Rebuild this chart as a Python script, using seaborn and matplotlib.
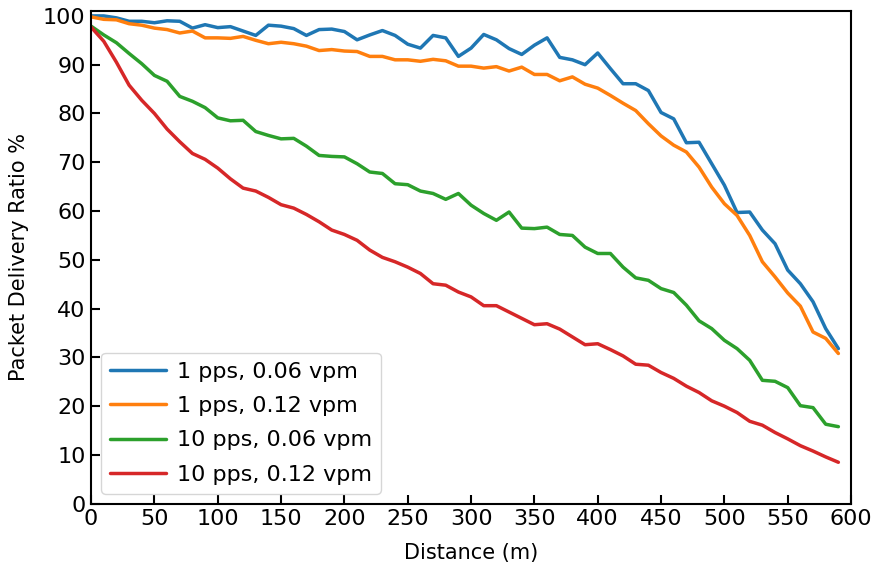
import numpy as np
import pandas as pd
import matplotlib
matplotlib.use("Agg")
import matplotlib.pyplot as plt
import seaborn as sns

distance = list(range(0, 600, 10))

pdr_1pps_006 = [100.0, 100.0, 99.6, 98.9, 98.9, 98.6, 99.0, 98.9, 97.5, 98.2,
                97.6, 97.8, 96.9, 96.0, 98.1, 97.9, 97.4, 96.0, 97.2, 97.3,
                96.8, 95.1, 96.1, 97.0, 96.0, 94.2, 93.4, 96.0, 95.5, 91.7,
                93.4, 96.2, 95.1, 93.3, 92.1, 94.0, 95.5, 91.5, 91.0, 90.0,
                92.4, 89.2, 86.1, 86.1, 84.7, 80.2, 78.9, 74.0, 74.1, 69.7,
                65.3, 59.7, 59.8, 56.1, 53.3, 47.9, 45.1, 41.4, 35.9, 31.8]

pdr_1pps_012 = [99.8, 99.3, 99.2, 98.4, 98.1, 97.5, 97.2, 96.5, 96.9, 95.5,
                95.5, 95.4, 95.8, 95.0, 94.3, 94.6, 94.3, 93.8, 92.9, 93.1,
                92.8, 92.7, 91.7, 91.7, 91.0, 91.0, 90.7, 91.1, 90.8, 89.7,
                89.7, 89.3, 89.6, 88.7, 89.5, 88.0, 88.0, 86.7, 87.5, 86.0,
                85.2, 83.7, 82.1, 80.6, 77.9, 75.4, 73.5, 72.1, 69.0, 64.9,
                61.5, 59.1, 55.0, 49.6, 46.5, 43.2, 40.5, 35.2, 33.9, 30.8]

pdr_10pps_006 = [97.9, 96.1, 94.5, 92.3, 90.2, 87.8, 86.6, 83.5, 82.5, 81.2,
                 79.1, 78.5, 78.6, 76.3, 75.5, 74.8, 74.9, 73.3, 71.4, 71.2,
                 71.1, 69.7, 68.0, 67.7, 65.6, 65.4, 64.1, 63.6, 62.4, 63.6,
                 61.2, 59.5, 58.1, 59.8, 56.5, 56.4, 56.7, 55.2, 55.0, 52.6,
                 51.3, 51.3, 48.5, 46.3, 45.8, 44.1, 43.3, 40.7, 37.5, 35.9,
                 33.5, 31.8, 29.4, 25.3, 25.1, 23.8, 20.1, 19.7, 16.3, 15.8]

pdr_10pps_012 = [97.7, 94.8, 90.5, 85.8, 82.7, 80.0, 76.8, 74.2, 71.8, 70.6,
                 68.8, 66.6, 64.7, 64.1, 62.8, 61.3, 60.6, 59.3, 57.8, 56.1,
                 55.2, 54.0, 52.0, 50.5, 49.6, 48.5, 47.2, 45.1, 44.8, 43.4,
                 42.4, 40.6, 40.6, 39.3, 38.0, 36.7, 36.9, 35.8, 34.2, 32.6,
                 32.8, 31.6, 30.3, 28.6, 28.4, 26.9, 25.7, 24.1, 22.8, 21.1,
                 20.0, 18.7, 16.9, 16.1, 14.6, 13.3, 11.9, 10.8, 9.6, 8.5]

series_labels = ["1 pps, 0.06 vpm", "1 pps, 0.12 vpm",
                 "10 pps, 0.06 vpm", "10 pps, 0.12 vpm"]
series_values = [pdr_1pps_006, pdr_1pps_012, pdr_10pps_006, pdr_10pps_012]

frames = []
for lab, vals in zip(series_labels, series_values):
    frames.append(pd.DataFrame({"Distance": distance, "PDR": vals, "Series": lab}))
df = pd.concat(frames, ignore_index=True)

sns.set_style("white")
plt.rcParams["font.family"] = ["DejaVu Sans"]
plt.rcParams["text.color"] = "black"
plt.rcParams["axes.labelcolor"] = "black"

fig = plt.figure(figsize=(8.76, 5.66), dpi=100)
ax = fig.add_axes([0.104, 0.110, 0.8675, 0.8705])

palette = ["#1f77b4", "#ff7f0e", "#2ca02c", "#d62728"]
sns.lineplot(data=df, x="Distance", y="PDR", hue="Series", hue_order=series_labels,
             palette=palette, linewidth=2.5, ax=ax)

ax.set_xlim(0, 600)
ax.set_ylim(0, 101)
ax.set_xticks(range(0, 601, 50))
ax.set_yticks(range(0, 101, 10))
ax.set_xlabel("Distance (m)", fontsize=15, labelpad=10, color="black")
ax.set_ylabel("Packet Delivery Ratio %", fontsize=15, labelpad=10, color="black")
ax.tick_params(axis="both", which="major", direction="in", length=6.5, width=1.5,
               labelsize=16, colors="black", left=True, bottom=True, pad=4)
for sp in ax.spines.values():
    sp.set_color("black")
    sp.set_linewidth(1.5)
    sp.set_visible(True)

leg = ax.legend(loc="lower left", fontsize=16, frameon=True, fancybox=True,
                handlelength=2.5, handletextpad=0.5, borderaxespad=0.45,
                labelspacing=0.65)
leg.get_frame().set_edgecolor("#cccccc")
leg.get_frame().set_linewidth(1.0)
for line in leg.get_lines():
    line.set_linewidth(2.5)
for t in leg.get_texts():
    t.set_color("black")

fig.savefig("out.png", dpi=100)
